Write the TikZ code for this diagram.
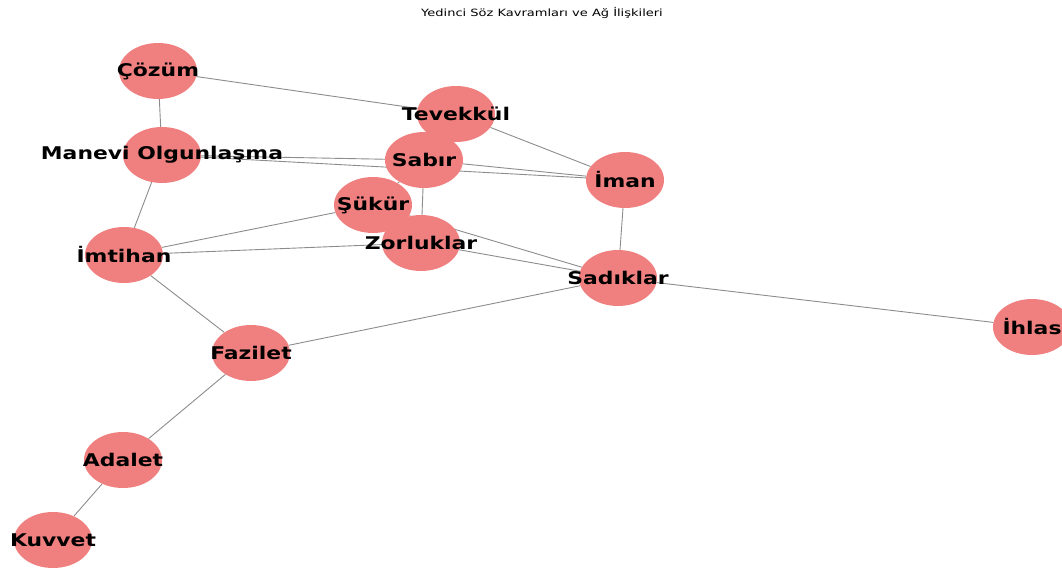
\documentclass[tikz,border=0pt]{standalone}
\usepackage{fontspec}
\setmainfont{DejaVu Sans}
\newfontfamily\lblfont[FakeStretch=1.25]{DejaVu Sans}
\newfontfamily\ttlfont[FakeStretch=1.3]{DejaVu Sans}
\usepackage{tikz}
\usetikzlibrary{shapes.geometric,backgrounds}
\definecolor{nodefill}{HTML}{F08080}

\begin{document}
\begin{tikzpicture}[x=1pt,y=-1pt,
concept/.style={ellipse, fill=nodefill, draw=none,
 minimum width=78pt, minimum height=56pt, inner sep=0pt},
lbl/.style={inner sep=0pt, text=black,
 font={\fontsize{17.5}{19}\selectfont\lblfont\bfseries}},
link/.style={draw=black!45, line width=0.9pt}]

\useasboundingbox (0,0) rectangle (1062,569);

% title
\node (title) at (542,13) {\fontsize{10}{12}\selectfont\ttlfont Yedinci Söz Kavramları ve Ağ İlişkileri};

% concepts
\node[concept, label={[lbl]center:Çözüm}] (cozum) at (158,71) {};
\node[concept, label={[lbl]center:Tevekkül}] (tevekkul) at (456,114) {};
\node[concept, label={[lbl]center:Manevi Olgunlaşma}] (manevi) at (162,155) {};
\node[concept, label={[lbl]center:Sabır}] (sabir) at (424,160) {};
\node[concept, label={[lbl]center:İman}] (iman) at (625,180) {};
\node[concept, label={[lbl]center:Şükür}] (sukur) at (373,205) {};
\node[concept, label={[lbl]center:Zorluklar}] (zorluklar) at (421,243) {};
\node[concept, label={[lbl]center:İmtihan}] (imtihan) at (124,255) {};
\node[concept, label={[lbl]center:Sadıklar}] (sadiklar) at (618,278) {};
\node[concept, label={[lbl]center:İhlas}] (ihlas) at (1032,327) {};
\node[concept, label={[lbl]center:Fazilet}] (fazilet) at (251,353) {};
\node[concept, label={[lbl]center:Adalet}] (adalet) at (123,460) {};
\node[concept, label={[lbl]center:Kuvvet}] (kuvvet) at (53,540) {};

% links
\begin{scope}[on background layer]
\draw[link] (cozum) -- (tevekkul);
\draw[link] (cozum) -- (manevi);
\draw[link] (manevi) -- (sabir);
\draw[link] (manevi) -- (iman);
\draw[link] (manevi) -- (imtihan);
\draw[link] (tevekkul) -- (iman);
\draw[link] (sabir) -- (iman);
\draw[link] (sabir) -- (sukur);
\draw[link] (sabir) -- (zorluklar);
\draw[link] (sukur) -- (imtihan);
\draw[link] (sukur) -- (sadiklar);
\draw[link] (zorluklar) -- (imtihan);
\draw[link] (zorluklar) -- (sadiklar);
\draw[link] (iman) -- (sadiklar);
\draw[link] (sadiklar) -- (ihlas);
\draw[link] (sadiklar) -- (fazilet);
\draw[link] (imtihan) -- (fazilet);
\draw[link] (fazilet) -- (adalet);
\draw[link] (adalet) -- (kuvvet);
\end{scope}

\end{tikzpicture}
\end{document}
